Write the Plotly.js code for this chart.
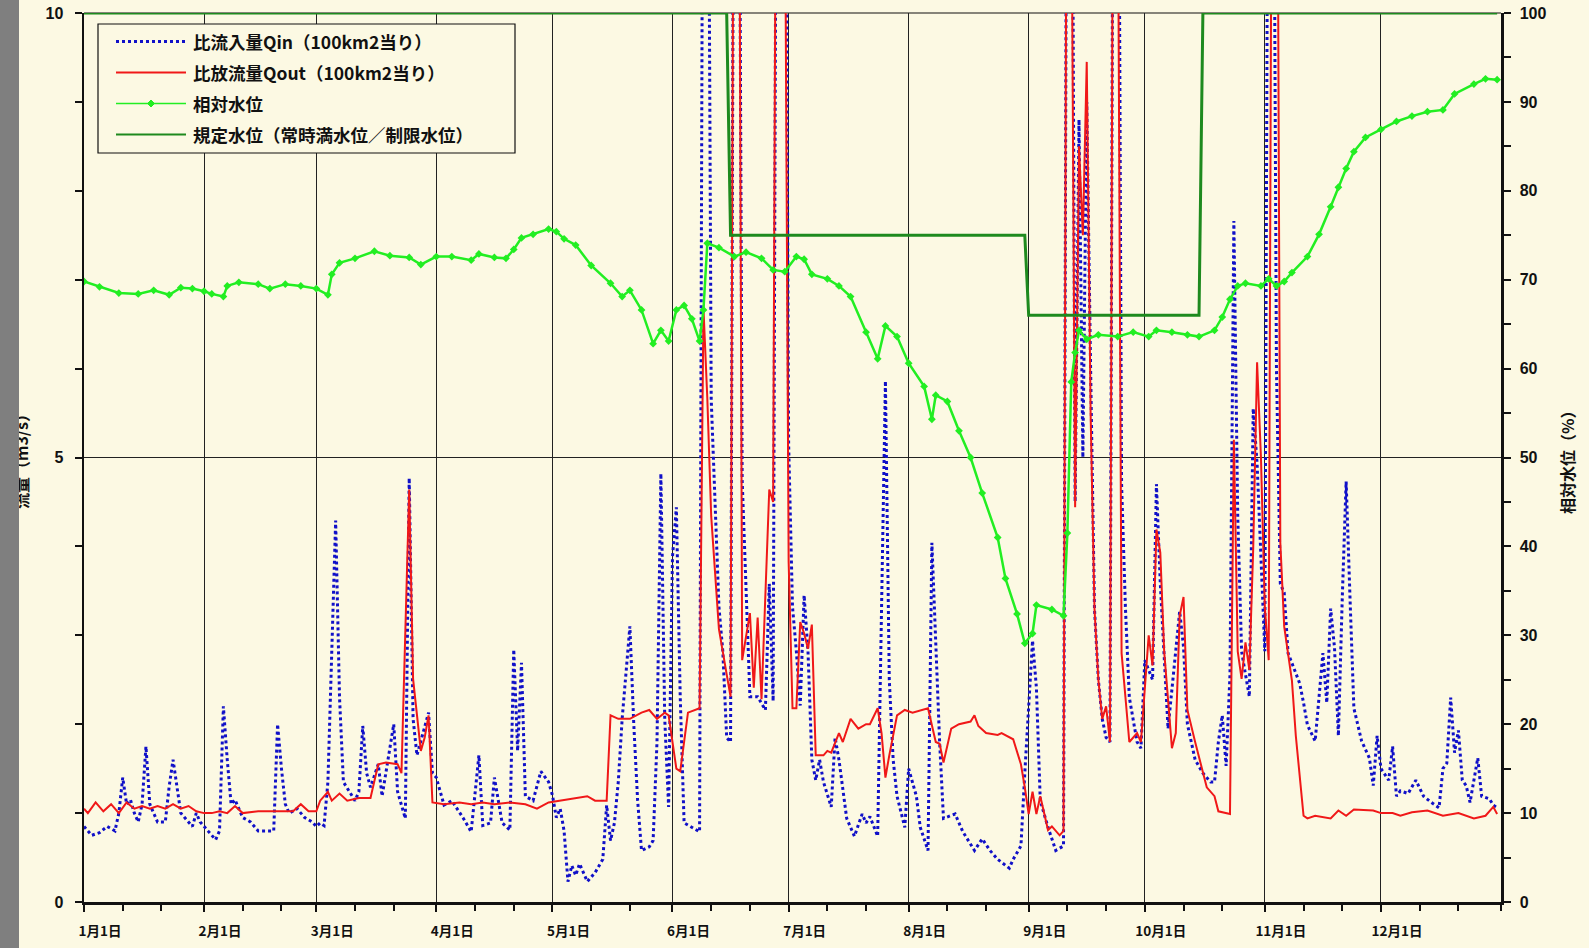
<!DOCTYPE html>
<html><head><meta charset="utf-8">
<script src="https://cdn.plot.ly/plotly-3.0.1.min.js"></script>
<style>
html,body{margin:0;padding:0;background:#FCF9E3;}
#wrap{position:relative;width:1589px;height:948px;}
#strip{position:absolute;left:0;top:0;width:19px;height:948px;background:#7F7F7F;z-index:5;}
#chart{position:absolute;left:0;top:0;width:1589px;height:948px;}
</style></head>
<body><div id="wrap"><div id="chart"></div><div id="strip"></div></div>
<script>
// ---- data (day index from Jan 1, leap year) ----
const year = 2020;
const monthLabels = ['1月1日','2月1日','3月1日','4月1日','5月1日','6月1日','7月1日','8月1日','9月1日','10月1日','11月1日','12月1日'];
const seriesNames = ['比流入量Qin（100km2当り）','比放流量Qout（100km2当り）','相対水位','規定水位（常時満水位／制限水位）'];

const qinDays = [0,2,4,6,8,9,10,11,12,13,14,15,16,17,18,19,21,22,23,24,25,26,28,29,30,32,34,35,36,37,38,39,41,43,45,47,49,50,51,52,53,55,57,59,60,61,62,63,65,66,67,70,71,72,73,74,76,77,80,81,83,84,85,86,89,90,91,93,95,98,100,102,103,105,106,108,110,111,112,113,114,116,118,120,121,122,123,124,125,126,127,128,130,132,134,135,136,137,138,139,141,142,143,144,146,147,148,149,150,151,152,153,154,155,157,159,160,161,162,164,165,166,167,168,169,170,172,174,176,177,178,179,180,181,182,183,184,185,186,187,188,189,190,191,193,194,195,196,197,199,201,202,203,205,206,207,208,209,210,211,212,213,215,216,218,219,220,221,222,225,227,230,232,234,236,239,240,242,243,244,245,246,247,248,249,251,253,254,255,256,257,258,259,260,261,262,263,264,265,266,267,268,269,270,272,273,274,276,277,278,279,280,283,284,285,287,289,291,292,293,294,295,296,297,298,299,300,301,302,303,305,306,307,308,309,310,311,314,315,316,318,320,321,322,323,324,325,326,327,328,330,332,333,334,335,337,338,339,340,342,344,346,348,350,351,352,353,354,355,356,357,358,360,361,363,364,365];
const qinVals = [0.85,0.75,0.78,0.85,0.8,1.0,1.4,1.1,1.15,1.0,0.9,1.1,1.75,1.1,1.0,0.9,0.9,1.3,1.6,1.3,1.0,0.95,0.85,1.0,0.9,0.8,0.7,0.8,2.2,1.6,1.1,1.15,0.95,0.9,0.8,0.8,0.8,2.0,1.5,1.1,1.0,1.05,0.95,0.9,0.85,0.89,0.86,1.35,4.29,2.3,1.35,1.14,1.24,1.98,1.45,1.29,1.55,1.19,2.0,1.24,0.94,4.77,2.06,1.65,2.13,1.45,1.4,1.09,1.14,0.94,0.79,1.65,0.86,0.89,1.4,0.89,0.81,2.84,1.7,2.69,1.19,1.14,1.47,1.35,1.2,0.95,1.05,0.8,0.23,0.41,0.3,0.43,0.23,0.33,0.48,1.09,0.69,0.89,1.35,2.06,3.1,2.0,1.14,0.58,0.62,0.69,1.8,4.82,2.06,1.07,3.88,4.44,2.31,0.89,0.84,0.79,15,15,5.66,3.32,2.82,1.85,1.8,15,15,4.75,2.31,2.31,2.16,3.58,2.26,15,15,15,5.15,3.32,2.82,2.21,3.45,2.82,1.6,1.37,1.6,1.35,1.07,1.85,1.6,1.29,0.94,0.74,0.99,0.89,0.96,0.74,3.27,5.86,2.5,1.6,1.19,1.02,0.84,1.5,1.19,0.84,0.58,4.04,2.82,1.8,0.94,0.99,0.79,0.58,0.71,0.58,0.48,0.38,0.48,0.63,1.45,2.26,2.94,2.41,1.14,0.99,0.84,0.58,0.63,15,15,4.5,8.8,5.0,9.0,6.0,3.3,2.5,2.06,1.85,1.8,15,15,4.7,3.3,2.3,1.8,1.73,2.72,2.5,4.7,3.58,2.82,1.95,3.27,2.87,2.0,1.6,1.45,1.35,1.35,1.8,2.1,1.53,2.56,7.66,4.34,2.82,2.56,2.31,5.55,4.93,2.82,15,15,6.0,3.58,3.48,2.8,2.46,2.24,1.99,1.81,2.8,2.24,3.3,2.86,1.87,3.42,4.73,3.42,2.18,1.81,1.62,1.31,1.87,1.5,1.37,1.75,1.19,1.25,1.22,1.37,1.19,1.12,1.06,1.5,1.56,2.3,1.68,1.93,1.37,1.31,1.12,1.62,1.19,1.16,1.09,1.06];

const qoutDays = [0,1,3,5,7,9,11,13,15,17,19,21,23,25,27,29,31,33,35,37,39,41,45,50,54,56,58,60,61,63,64,66,68,71,74,76,78,81,82,84,85,87,88,89,90,93,97,100,103,106,110,114,117,120,123,127,130,132,135,136,138,141,144,146,148,150,151,153,154,156,159,160,161,162,164,166,167,168,169,170,172,173,174,175,177,178,179,180,181,182,183,184,185,186,187,188,189,191,192,193,195,196,198,200,202,203,205,206,207,208,210,212,214,218,219,220,221,222,224,226,229,230,231,233,236,237,240,242,243,244,245,246,247,249,250,251,252,253,254,255,256,257,258,259,260,261,262,263,264,265,266,267,268,269,270,272,273,275,276,277,278,279,280,281,282,283,284,285,287,290,292,293,296,297,298,299,300,301,302,303,304,305,306,307,308,309,310,312,313,315,316,318,322,324,326,328,333,335,338,340,343,347,351,355,359,362,364,365];
const qoutVals = [1.05,1.0,1.12,1.02,1.1,1.0,1.12,1.05,1.08,1.05,1.08,1.05,1.1,1.05,1.08,1.02,1.0,1.0,1.02,1.0,1.08,1.0,1.02,1.02,1.02,1.1,1.02,1.02,1.14,1.24,1.14,1.22,1.14,1.17,1.17,1.55,1.57,1.55,1.45,4.64,2.51,1.7,1.85,2.1,1.12,1.1,1.12,1.1,1.12,1.1,1.12,1.1,1.05,1.12,1.14,1.17,1.19,1.14,1.14,2.1,2.06,2.06,2.13,2.16,2.06,2.13,2.1,1.5,1.47,2.13,2.18,6.68,5.66,4.34,3.07,2.56,2.31,15,15,2.72,3.25,2.41,3.2,2.28,4.64,4.5,15,15,12,3.83,2.18,2.18,3.15,3.02,2.85,3.12,1.65,1.65,1.7,1.68,1.9,1.8,2.06,1.95,2.0,2.0,2.18,1.9,1.4,1.65,2.1,2.16,2.13,2.18,2.0,1.8,1.78,1.57,1.95,2.0,2.03,2.1,1.98,1.9,1.88,1.9,1.83,1.55,1.29,0.99,1.24,0.99,1.19,0.81,0.85,0.8,0.75,0.8,15,12,4.44,8.5,7.5,9.45,5.5,3.3,2.5,2.06,2.2,1.8,15,12,2.8,2.3,1.8,1.9,1.8,3.0,2.66,4.19,3.93,2.82,2.31,1.73,1.9,3.22,3.43,2.16,1.8,1.29,1.19,1.02,0.99,5.2,2.82,2.51,2.92,2.61,3.98,6.07,5.0,3.32,2.72,15,15,4.04,3.1,2.49,1.87,0.97,0.94,0.97,0.94,1.03,0.97,1.04,1.03,1.0,1.0,0.97,1.01,1.03,0.97,1.0,0.94,0.97,1.07,0.99];

const levelDays = [0,4,9,14,18,22,25,28,31,33,36,37,40,45,48,52,56,60,63,64,66,70,75,79,84,87,91,95,100,102,106,109,111,113,116,120,122,124,127,131,136,139,141,144,147,149,151,153,155,157,159,160,161,164,168,171,175,178,181,184,186,188,192,195,198,202,205,207,210,213,217,219,220,223,226,229,232,236,238,241,243,245,246,250,253,254,255,256,257,259,262,267,271,275,277,281,285,288,292,294,296,298,300,304,306,308,310,312,316,319,322,324,326,328,331,335,339,343,347,351,354,359,362,365];
const levelVals = [69.8,69.2,68.5,68.4,68.8,68.3,69.1,69.0,68.7,68.4,68.1,69.3,69.7,69.5,69.0,69.5,69.3,69.0,68.3,70.6,71.9,72.4,73.2,72.7,72.5,71.7,72.6,72.6,72.2,72.9,72.5,72.4,73.4,74.7,75.1,75.7,75.4,74.6,73.9,71.6,69.6,68.1,68.8,66.6,62.8,64.3,63.1,66.6,67.1,65.6,63.1,66.6,74.1,73.6,72.6,73.1,72.4,71.1,70.9,72.6,72.3,70.6,70.1,69.3,68.1,64.1,61.1,64.8,63.6,60.6,58.0,54.3,57.0,56.3,53.0,50.0,46.0,41.0,36.4,32.4,29.1,30.2,33.4,32.9,32.2,41.5,58.5,61.8,64.3,63.3,63.8,63.6,64.1,63.6,64.3,64.1,63.8,63.6,64.3,65.8,67.8,69.3,69.6,69.3,70.1,69.3,69.8,70.8,72.6,75.1,78.2,80.4,82.5,84.4,86.0,86.9,87.8,88.4,88.9,89.1,90.9,92.0,92.6,92.5];

const ruleDays = [0,166,167,243,244,288,289,365];
const ruleVals = [100,100,75,75,66,66,100,100];

// ---- helpers ----
const base = Date.UTC(year,0,1);
const toDate = d => new Date(base + d*86400000).toISOString().slice(0,10);
const monthStarts = monthLabels.map((_,i)=>new Date(Date.UTC(year,i,1)).toISOString().slice(0,10));
const minorTicks = [];
for(let m=0;m<12;m++){ [11,21].forEach(dd=>minorTicks.push(new Date(Date.UTC(year,m,dd)).toISOString().slice(0,10))); }
minorTicks.push(new Date(Date.UTC(year+1,0,1)).toISOString().slice(0,10));

const L=84, R=1501, T=13, B=902;
const px = x => (x-L)/(R-L);
const py = y => 1-(y-T)/(B-T);

const tickFont = {family:'Liberation Sans, Noto Sans CJK JP, sans-serif', size:16, color:'#111', weight:'bold'};
const xFont = {family:'Noto Sans CJK JP, sans-serif', size:13.5, color:'#111', weight:'bold'};
const titleFont = {family:'Noto Sans CJK JP, sans-serif', size:16, color:'#111', weight:'bold'};

const cBlue='#1010C8', cRed='#F01818', cLight='#22EE22', cDark='#1E8A1E';

const traces = [
 {x:qinDays.map(toDate), y:qinVals, type:'scatter', mode:'lines', name:seriesNames[0], showlegend:false,
  line:{color:cBlue, width:3, dash:'dot'}},
 {x:qoutDays.map(toDate), y:qoutVals, type:'scatter', mode:'lines', name:seriesNames[1], showlegend:false,
  line:{color:cRed, width:2}},
 {x:levelDays.map(toDate), y:levelVals, type:'scatter', mode:'lines+markers', name:seriesNames[2], showlegend:false, yaxis:'y2',
  line:{color:cLight, width:2.5}, marker:{symbol:'diamond', size:6, color:cLight}},
 {x:ruleDays.map(toDate), y:ruleVals, type:'scatter', mode:'lines', name:seriesNames[3], showlegend:false, yaxis:'y2',
  line:{color:cDark, width:3}}
];

// legend drawn manually
const legX0=98, legX1=515, legY0=24, legY1=153;
const rows=[41.5,72.5,103.5,134.5];
const shapes = [
 {type:'line', xref:'paper', yref:'paper', x0:0, x1:1, y0:1, y1:1, line:{color:'#111', width:1.2}, layer:'below'},
 {type:'rect', xref:'paper', yref:'paper', x0:px(legX0), x1:px(legX1), y0:py(legY0), y1:py(legY1), line:{color:'#111', width:1.2}, fillcolor:'#FCF9E3', layer:'above'},
 {type:'line', xref:'paper', yref:'paper', x0:px(116), x1:px(186), y0:py(rows[0]), y1:py(rows[0]), line:{color:cBlue, width:3, dash:'dot'}, layer:'above'},
 {type:'line', xref:'paper', yref:'paper', x0:px(116), x1:px(186), y0:py(rows[1]), y1:py(rows[1]), line:{color:cRed, width:2.2}, layer:'above'},
 {type:'line', xref:'paper', yref:'paper', x0:px(116), x1:px(186), y0:py(rows[2]), y1:py(rows[2]), line:{color:cLight, width:1.5}, layer:'above'},
 {type:'path', xref:'paper', yref:'paper', layer:'above', fillcolor:cLight, line:{color:cLight,width:1},
  path:`M ${px(151)} ${py(rows[2]-3.5)} L ${px(154.5)} ${py(rows[2])} L ${px(151)} ${py(rows[2]+3.5)} L ${px(147.5)} ${py(rows[2])} Z`},
 {type:'line', xref:'paper', yref:'paper', x0:px(116), x1:px(186), y0:py(rows[3]), y1:py(rows[3]), line:{color:cDark, width:2.2}, layer:'above'}
];
const legFont = {family:'Noto Sans CJK JP, sans-serif', size:17.5, color:'#111', weight:'bold'};
const annotations = seriesNames.map((n,i)=>({xref:'paper', yref:'paper', x:px(191), y:py(rows[i]), xanchor:'left', yanchor:'middle', text:n, showarrow:false, font:legFont}));
annotations.push({xref:'paper', yref:'paper', x:px(21), y:py(458), text:'流量（m3/s）', textangle:-90, showarrow:false, xanchor:'center', yanchor:'middle', font:titleFont});
annotations.push({xref:'paper', yref:'paper', x:px(1567), y:py(458), text:'相対水位（%）', textangle:-90, showarrow:false, xanchor:'center', yanchor:'middle', font:titleFont});

const layout = {
 width:1589, height:948,
 margin:{l:L, r:1589-R, t:T, b:948-B},
 paper_bgcolor:'#FCF9E3', plot_bgcolor:'#FCF9E3',
 showlegend:false,
 xaxis:{type:'date', range:[toDate(0), toDate(366)], tickmode:'array', tickvals:monthStarts, ticktext:monthLabels,
  showgrid:true, gridcolor:'#222', gridwidth:1, showline:true, linecolor:'#111', linewidth:2.5,
  ticks:'outside', ticklen:7, tickwidth:2, tickcolor:'#111', ticklabelshift:16, ticklabelstandoff:8,
  tickfont:xFont, zeroline:false, fixedrange:true,
  minor:{tickmode:'array', tickvals:minorTicks, ticks:'outside', ticklen:6, tickwidth:2, tickcolor:'#111', showgrid:false}},
 yaxis:{range:[0,10], tickmode:'array', tickvals:[0,5,10], ticktext:['0','5','10'], showgrid:true, gridcolor:'#222', gridwidth:1,
  showline:true, linecolor:'#111', linewidth:2.5, ticks:'outside', ticklen:7, tickwidth:2, tickcolor:'#111', ticklabelstandoff:8,
  tickfont:tickFont, zeroline:false,
  minor:{dtick:1, ticks:'outside', ticklen:7, tickwidth:2, tickcolor:'#111', showgrid:false}},
 yaxis2:{range:[0,100], overlaying:'y', side:'right', tickmode:'linear', tick0:0, dtick:10, showgrid:false,
  showline:true, linecolor:'#111', linewidth:2.5, ticks:'outside', ticklen:7, tickwidth:2, tickcolor:'#111', ticklabelstandoff:6,
  tickfont:tickFont, zeroline:false,
  minor:{dtick:5, ticks:'outside', ticklen:7, tickwidth:2, tickcolor:'#111', showgrid:false}},
 shapes:shapes, annotations:annotations
};
Plotly.newPlot('chart', traces, layout, {staticPlot:true, displayModeBar:false});
</script></body></html>
